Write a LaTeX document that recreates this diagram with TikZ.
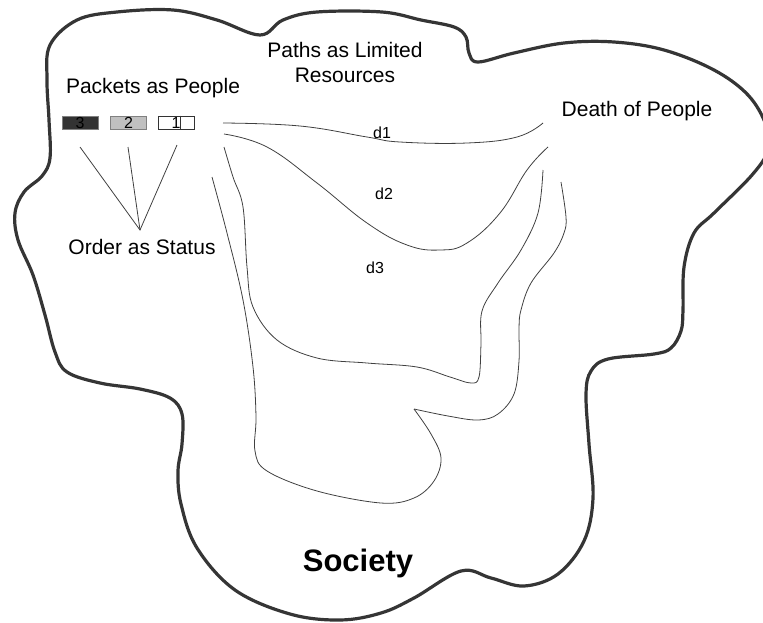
\documentclass[tikz,border=0pt]{standalone}
\usepackage{fontspec}
\setmainfont{Liberation Sans}
\definecolor{outl}{HTML}{353535}
\definecolor{thinl}{HTML}{404040}
\definecolor{pkdark}{HTML}{333333}
\definecolor{pkmid}{HTML}{C0C0C0}
\begin{document}
\begin{tikzpicture}[x=1pt,y=-1pt,
  blob/.style={draw=outl,line width=3.2pt},
  route/.style={draw=thinl,line width=0.8pt},
  lbl/.style={font=\fontsize{21}{25}\selectfont,align=center,inner sep=0pt},
  dl/.style={font=\fontsize{16}{19}\selectfont,inner sep=0pt},
  soc/.style={font=\fontsize{31}{36}\selectfont\bfseries,inner sep=0pt},
  pkt/.style={minimum width=36pt,minimum height=13pt,inner sep=0pt,font=\fontsize{16}{16}\selectfont,line width=1pt}]
\useasboundingbox (0,0) rectangle (763,622);
\begin{scope}
\clip (0,0) rectangle (763,622);
\draw[blob] plot[smooth cycle,tension=0.6] coordinates {
 (50,45) (77,20) (117,12) (173,10) (217,20) (260,35) (283,20) (317,12) (382,12)
 (421,20) (454,27) (466,37) (469,53) (478,62) (514,53) (564,43) (614,42) (664,50)
 (714,70) (748,95) (766,125) (768,150) (752,175) (714,213) (694,233) (684,267)
 (683,310) (681,331) (671,348) (654,354) (608,359) (591,371) (586,394) (589,444)
 (593,498) (584,541) (558,574) (524,586) (491,578) (461,571) (414,598) (381,613)
 (340,620) (290,614) (235,590) (197,548) (181,504) (178,471) (182,444) (182,414)
 (170,398) (140,389) (100,383) (67,372) (55,352) (45,315) (33,275) (18,240)
 (15,213) (24,192) (42,176) (50,158) (49,120) (47,80)};
\end{scope}
% packets
\node[pkt,fill=pkdark,draw=gray] (p3) at (80,122.5) {3};
\node[pkt,fill=pkmid,draw=gray] (p2) at (128.5,122.5) {2};
\node[pkt,fill=white,draw=pkdark] (p1) at (176,122.5) {1};
\draw[draw=pkdark,line width=1pt] ([xshift=4pt]p1.north) -- ([xshift=4pt]p1.south);
% status lines
\coordinate (c3) at (80,147);
\coordinate (c2) at (128,147);
\coordinate (c1) at (177,145);
\coordinate (os) at (140,230);
\draw[route] (c3) -- (os) -- (c1);
\draw[route] (c2) -- (os);
% texts
\node[lbl] (pp) at (153,88) {Packets as People};
\node[lbl] (ost) at (142,247) {Order as Status};
\node[lbl] (plr) at (345,62) {Paths as Limited\\Resources};
\node[lbl] (dop) at (637,111) {Death of People};
\node[dl] (d1) at (382,133) {d1};
\node[dl] (d2) at (384,194) {d2};
\node[dl] (d3) at (375,268) {d3};
\node[soc] (society) at (358,563) {Society};
% routes
\draw[route] plot[smooth,tension=0.7] coordinates {
 (223,123) (300,126) (367,137) (400,142) (467,143) (517,137) (543,123)};
\draw[route] plot[smooth,tension=0.7] coordinates {
 (224,134) (267,147) (317,183) (367,223) (407,245) (440,250) (467,243) (500,213) (527,170) (548,147)};
\draw[route] plot[smooth,tension=0.6] coordinates {
 (224,147) (233,177) (243,207) (247,267) (253,307) (277,340) (317,358) (367,363)
 (417,367) (450,377) (471,383) (479,377) (481,344) (482,311) (498,283) (521,250)
 (538,213) (543,170)};
\draw[route] plot[smooth,tension=0.6] coordinates {
 (212,177) (227,233) (243,300) (253,367) (256,417) (255,451) (267,471) (317,491)
 (381,503) (414,498) (434,481) (441,458) (431,434) (414,409)};
\draw[route] plot[smooth,tension=0.6] coordinates {
 (414,409) (448,416) (478,420) (498,414) (514,394) (519,361) (519,328) (521,310)
 (531,283) (554,253) (564,233) (566,217) (561,182)};
\end{tikzpicture}
\end{document}
